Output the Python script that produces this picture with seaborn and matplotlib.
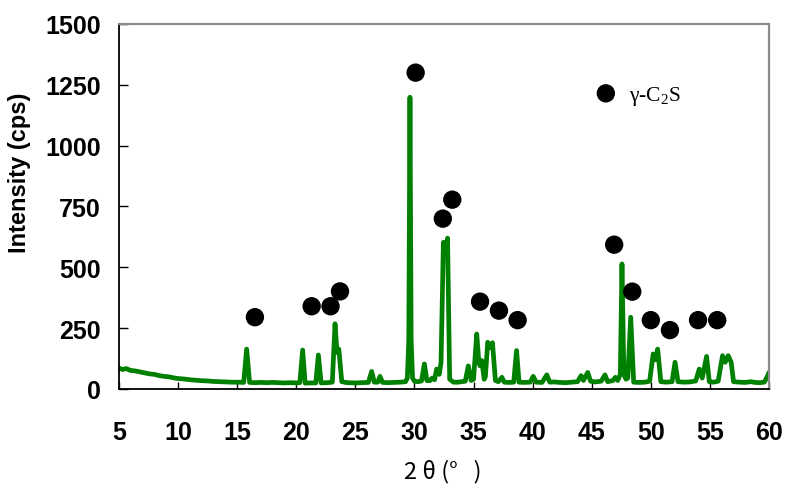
import matplotlib
matplotlib.use("Agg")
import matplotlib.pyplot as plt
import seaborn as sns
import pandas as pd

# XRD trace: diffraction angle (2θ, degrees) and measured intensity (cps)
two_theta = [
    5.0, 5.3, 5.6, 6.0, 6.4, 6.8, 7.2, 7.6, 8.0, 8.4, 8.8, 9.2, 9.6, 10.0,
    10.5, 11.0, 11.5, 12.0, 12.5, 13.0, 13.5, 14.0, 14.5, 15.0, 15.55, 15.8,
    16.05, 16.5, 17.0, 17.5, 18.0, 18.5, 19.0, 19.5, 20.0, 20.3, 20.54, 20.75,
    21.2, 21.65, 21.87, 22.1, 22.6, 23.05, 23.28, 23.45, 23.6, 23.85, 24.3,
    25.0, 25.5, 26.1, 26.38, 26.6, 26.9, 27.08, 27.3, 27.8, 28.3, 28.8, 29.25,
    29.4, 29.52, 29.62, 29.72, 29.84, 30.0, 30.3, 30.6, 30.84, 31.05, 31.3,
    31.5, 31.7, 31.88, 32.1, 32.25, 32.45, 32.62, 32.8, 32.98, 33.3, 33.7,
    34.0, 34.3, 34.56, 34.8, 35.0, 35.27, 35.45, 35.55, 35.7, 35.9, 36.0,
    36.2, 36.4, 36.6, 36.85, 37.1, 37.4, 37.6, 38.0, 38.4, 38.64, 38.85, 39.3,
    39.8, 40.05, 40.3, 40.8, 41.2, 41.45, 41.8, 42.3, 42.8, 43.3, 43.8, 44.1,
    44.3, 44.66, 44.9, 45.3, 45.8, 46.12, 46.35, 46.8, 47.0, 47.2, 47.42,
    47.56, 47.72, 47.9, 48.05, 48.3, 48.55, 49.0, 49.5, 49.9, 50.2, 50.4,
    50.58, 50.85, 51.3, 51.8, 52.05, 52.3, 52.8, 53.3, 53.8, 54.1, 54.35,
    54.72, 54.95, 55.3, 55.7, 56.07, 56.3, 56.55, 56.8, 57.0, 57.5, 58.0,
    58.47, 58.8, 59.2, 59.6, 59.85, 60.0,
]
intensity = [
    86, 80, 84, 76, 74, 70, 66, 62, 60, 55, 52, 50, 46, 43,
    41, 38, 36, 34, 33, 31, 30, 29, 28, 28, 27, 164,
    27, 26, 27, 26, 27, 26, 25, 26, 25, 26, 160, 24,
    25, 25, 140, 25, 26, 28, 268, 150, 164, 30, 26,
    25, 26, 27, 72, 28, 28, 52, 27, 26, 27, 28, 30,
    45, 200, 1199, 200, 45, 32, 30, 33, 103, 35, 34,
    45, 38, 82, 60, 110, 603, 560, 620, 40, 28, 28,
    30, 32, 95, 35, 40, 226, 110, 95, 117, 40, 50,
    192, 170, 190, 35, 30, 48, 28, 27, 28, 158, 28, 27,
    28, 52, 28, 27, 58, 28, 29, 27, 26, 28, 30, 55,
    35, 68, 32, 29, 32, 58, 30, 35, 48, 35, 60,
    514, 60, 40, 45, 295, 28, 27, 28, 32, 144, 120,
    164, 30, 28, 30, 110, 30, 28, 29, 33, 82, 45,
    134, 30, 28, 32, 137, 110, 137, 110, 30, 28, 27,
    30, 27, 26, 28, 50, 68,
]

# γ-C2S reflections flagged with filled circles
marker_theta = [16.5, 21.3, 22.9, 23.7, 30.1, 32.4, 33.2, 35.55, 37.15,
                38.73, 46.9, 48.43, 50.0, 51.62, 54.0, 55.62]
marker_int = [295, 340, 340, 401, 1300, 700, 778, 359, 322,
              283, 593, 400, 283, 242, 283, 283]

x_ticks = [5, 10, 15, 20, 25, 30, 35, 40, 45, 50, 55, 60]
y_ticks = [0, 250, 500, 750, 1000, 1250, 1500]

trace = pd.DataFrame({"two_theta": two_theta, "intensity": intensity})
peaks = pd.DataFrame({"two_theta": marker_theta, "intensity": marker_int})

sns.set_style("white")
plt.rcParams["font.family"] = ["Liberation Sans", "DejaVu Sans"]
plt.rcParams["mathtext.fontset"] = "custom"
plt.rcParams["mathtext.rm"] = "Liberation Serif"
plt.rcParams["text.color"] = "black"
plt.rcParams["axes.labelcolor"] = "black"

fig = plt.figure(figsize=(7.85, 4.85), dpi=100)
ax = fig.add_axes([0.1516, 0.1959, 0.828, 0.7526])

sns.lineplot(data=trace, x="two_theta", y="intensity", color="green",
             lw=3.4, estimator=None, sort=False, ax=ax, zorder=2)
sns.scatterplot(data=peaks, x="two_theta", y="intensity", s=175,
                color="black", edgecolor="none", ax=ax, zorder=3)

ax.set_xlim(5, 60)
ax.set_ylim(0, 1500)
ax.set_xticks(x_ticks)
ax.set_yticks(y_ticks)
ax.set_xticklabels([str(t) for t in x_ticks], fontsize=18, fontweight="bold")
ax.set_yticklabels([str(t) for t in y_ticks], fontsize=18, fontweight="bold")
ax.tick_params(axis="x", bottom=True, direction="in", length=5, width=1,
               pad=22, color="black", labelcolor="black")
ax.tick_params(axis="y", left=True, direction="in", length=6.5, width=1,
               pad=13, color="black", labelcolor="black")

for side in ("left", "bottom"):
    ax.spines[side].set_color("black")
    ax.spines[side].set_linewidth(1.3)
for side in ("top", "right"):
    ax.spines[side].set_color("#8c8c8c")
    ax.spines[side].set_linewidth(1.6)

ax.set_ylabel("Intensity (cps)", fontsize=17, fontweight="bold", color="black")
ax.yaxis.set_label_coords(-0.135, 0.594)
ax.set_xlabel("2 θ (°   )", fontsize=17, color="black",
              family=["Noto Sans CJK JP", "DejaVu Sans"])
ax.xaxis.set_label_coords(0.498, -0.19)

# key for the circle symbol
ax.scatter([0.749], [0.81], s=175, color="black", edgecolor="none",
           transform=ax.transAxes, zorder=3)
ax.text(0.785, 0.805, r"γ-C$_{\mathrm{2}}$S", transform=ax.transAxes,
        fontsize=15.5, family=["Liberation Serif", "DejaVu Serif"],
        va="center", ha="left", color="black")

fig.savefig("out.png", dpi=100)
